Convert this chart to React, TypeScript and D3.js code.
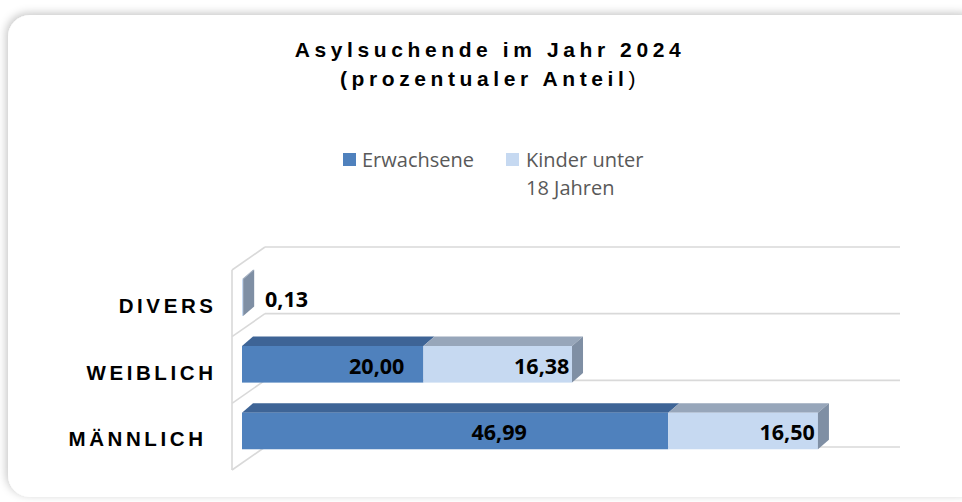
import React from "react";
import * as d3 from "d3";

const categories = ["DIVERS", "WEIBLICH", "MÄNNLICH"];
const erwachsene = [0, 20.0, 46.99];
const kinder = [0.13, 16.38, 16.5];
const seriesNames = ["Erwachsene", "Kinder unter\n18 Jahren"];
const titleLines = ["Asylsuchende im Jahr 2024", "(prozentualer Anteil"];
const valueDomain = [0, 70];

const W = 962;
const H = 502;

const colors = {
  erw: { front: "#4f81bd", top: "#3e6496", side: "#3a5e8c" },
  kid: { front: "#c6d9f1", top: "#97a6ba", side: "#7f8fa4" },
};

const fmt = (v: number) => d3.format(".2f")(v).replace(".", ",");

export default function App() {
  const x = d3.scaleLinear().domain(valueDomain).range([232, 867]);
  const y = d3.scaleBand<string>().domain(categories).range([270, 470]);
  const wallDepth = { dx: 33, dy: -23 };
  const barDepth = { dx: 11, dy: -9.5 };
  const barInset = { dx: 10, dy: -5.7 };
  const barH = 36.6;

  const gridYs = d3.range(categories.length + 1).map((i) => 270 + i * y.step());

  const labelFont = "'Open Sans', Carlito, Calibri, sans-serif";
  const arial = "'Liberation Sans', Arial, sans-serif";

  const bars: React.ReactNode[] = [];
  const labels: React.ReactNode[] = [];
  categories.forEach((c, i) => {
    const cy = (y(c) as number) + y.bandwidth() / 2 + barInset.dy;
    const y0 = cy - barH / 2;
    const segs = [
      { v0: 0, v1: erwachsene[i], col: colors.erw, val: erwachsene[i] },
      { v0: erwachsene[i], v1: erwachsene[i] + kinder[i], col: colors.kid, val: kinder[i] },
    ].filter((s) => s.val > 0);
    segs.forEach((s, j) => {
      const xa = x(s.v0) + barInset.dx;
      const xb = x(s.v1) + barInset.dx;
      const { dx, dy } = barDepth;
      bars.push(
        <path
          key={`t${i}${j}`}
          d={`M${xa},${y0}L${xa + dx},${y0 + dy}L${xb + dx},${y0 + dy}L${xb},${y0}Z`}
          fill={s.col.top}
        />
      );
      bars.push(
        <rect key={`f${i}${j}`} x={xa} y={y0} width={xb - xa} height={barH} fill={s.col.front} />
      );
      if (j === segs.length - 1) {
        bars.push(
          <path
            key={`s${i}${j}`}
            d={`M${xb},${y0}L${xb + dx},${y0 + dy}L${xb + dx},${y0 + dy + barH}L${xb},${y0 + barH}Z`}
            fill={s.col.side}
          />
        );
      }
      labels.push(
        <text
          key={`l${i}${j}`}
          x={(xa + xb) / 2 + 44}
          y={cy + 9.5}
          textAnchor="middle"
          fontFamily={labelFont}
          fontWeight="bold"
          fontSize={21.5}
          fill="#000"
        >
          {fmt(s.val)}
        </text>
      );
    });
  });

  const catLs = 3.6;

  return (
    <svg
      width={W}
      height={H}
      style={{ position: "absolute", left: 0, top: 0, background: "#fff" }}
    >
      <defs>
        <filter id="sh" x="-5%" y="-10%" width="110%" height="120%">
          <feGaussianBlur in="SourceAlpha" stdDeviation="4" />
          <feOffset dx="-2" dy="-2" result="b" />
          <feFlood floodColor="#000" floodOpacity="0.22" />
          <feComposite in2="b" operator="in" />
          <feMerge>
            <feMergeNode />
            <feMergeNode in="SourceGraphic" />
          </feMerge>
        </filter>
      </defs>
      <rect x={8} y={15} width={975} height={482} rx={22} fill="#fff" filter="url(#sh)" />

      {/* title */}
      <text
        x={490}
        y={57}
        textAnchor="middle"
        fontFamily={arial}
        fontWeight="bold"
        fontSize={21}
        letterSpacing={4.6}
        fill="#000"
      >
        {titleLines[0]}
      </text>
      <text
        x={490}
        y={86}
        textAnchor="middle"
        fontFamily={arial}
        fontSize={21}
        letterSpacing={4.6}
        fill="#000"
      >
        <tspan fontWeight="bold">{titleLines[1]}</tspan>
        <tspan>)</tspan>
      </text>

      {/* legend */}
      <rect x={343} y={153} width={13} height={13} fill={colors.erw.front} />
      <text x={362} y={167} fontFamily={labelFont} fontSize={20} fill="#595959">
        {seriesNames[0]}
      </text>
      <rect x={506} y={153} width={13} height={13} fill={colors.kid.front} />
      <text fontFamily={labelFont} fontSize={20} fill="#595959">
        {seriesNames[1].split("\n").map((t, k) => (
          <tspan key={k} x={526} y={167 + k * 28}>
            {t}
          </tspan>
        ))}
      </text>

      {/* walls */}
      <g stroke="#d9d9d9" strokeWidth={1.6} fill="none">
        <line x1={x(valueDomain[0])} y1={gridYs[0]} x2={x(valueDomain[0])} y2={gridYs[gridYs.length - 1]} />
        {gridYs.map((gy, k) => (
          <g key={k}>
            <line x1={x(valueDomain[0])} y1={gy} x2={x(valueDomain[0]) + wallDepth.dx} y2={gy + wallDepth.dy} />
            <line
              x1={x(valueDomain[0]) + wallDepth.dx}
              y1={gy + wallDepth.dy}
              x2={x(valueDomain[1]) + wallDepth.dx}
              y2={gy + wallDepth.dy}
            />
          </g>
        ))}
      </g>

      {bars}
      {labels}

      {/* category labels */}
      {categories.map((c, i) => (
        <text
          key={c}
          x={(i === 2 ? 203 : 213) + catLs}
          y={(y(c) as number) + y.bandwidth() / 2 + barInset.dy + 8 + 7.5}
          textAnchor="end"
          fontFamily={arial}
          fontWeight="bold"
          fontSize={20.5}
          letterSpacing={catLs}
          fill="#000"
        >
          {c}
        </text>
      ))}
    </svg>
  );
}
